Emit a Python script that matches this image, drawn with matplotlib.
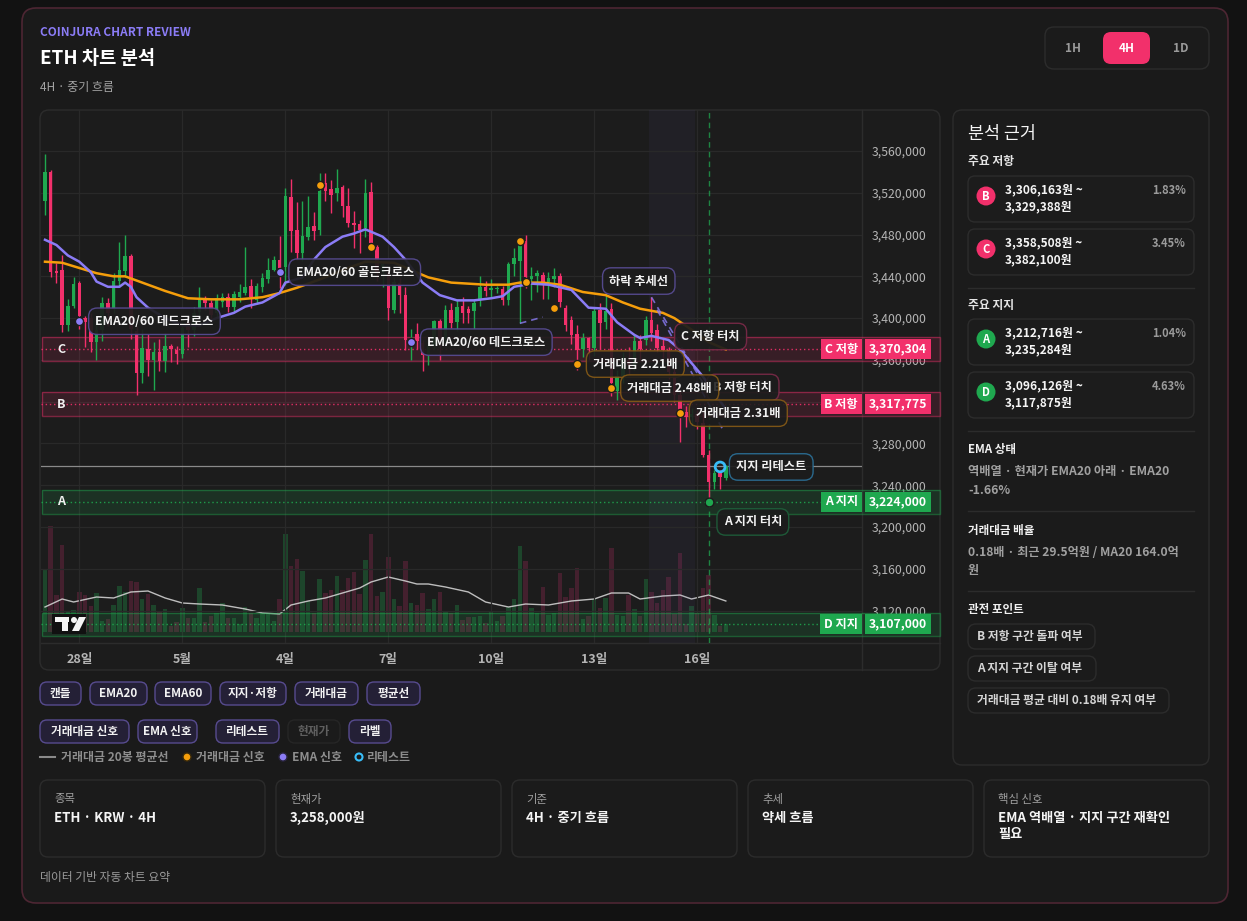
import matplotlib
matplotlib.use('Agg')
import matplotlib.pyplot as plt
import matplotlib.transforms as mtransforms
from matplotlib.patches import FancyBboxPatch, Rectangle, Circle, Polygon
from matplotlib.ticker import FuncFormatter
import numpy as np

plt.rcParams['font.family'] = ['Noto Sans CJK KR', 'DejaVu Sans']

# ---- data (prices in thousand KRW, 4H candles) ----
opens = [3512, 3540, 3445, 3446, 3393, 3412, 3434, 3400, 3400, 3377,
         3389, 3414, 3409, 3436, 3445, 3459, 3388, 3347, 3370, 3360,
         3368, 3359, 3373, 3369, 3366, 3395, 3389, 3406, 3417, 3414,
         3405, 3415, 3420, 3411, 3420, 3424, 3431, 3417, 3430, 3437,
         3446, 3456, 3449, 3516, 3484, 3462, 3478, 3488, 3484, 3529,
         3524, 3520, 3526, 3507, 3491, 3490, 3486, 3521, 3468, 3444,
         3443, 3408, 3434, 3422, 3373, 3385, 3376, 3365, 3374, 3397,
         3380, 3408, 3396, 3412, 3409, 3407, 3417, 3430, 3427, 3428,
         3428, 3417, 3452, 3455, 3474, 3437, 3440, 3441, 3435, 3437,
         3440, 3410, 3398, 3385, 3370, 3381, 3371, 3408, 3396, 3409,
         3330, 3345, 3360, 3355, 3378, 3379, 3398, 3389, 3373, 3369,
         3348, 3326, 3310, 3305, 3308, 3300, 3269, 3243, 3252, 3247]
highs = [3557, 3542, 3453, 3460, 3418, 3439, 3436, 3402, 3405, 3396,
         3420, 3419, 3443, 3473, 3480, 3461, 3392, 3390, 3385, 3377,
         3380, 3386, 3375, 3373, 3396, 3402, 3411, 3430, 3421, 3417,
         3423, 3424, 3424, 3426, 3433, 3468, 3437, 3434, 3443, 3458,
         3459, 3479, 3525, 3533, 3511, 3512, 3517, 3502, 3539, 3539,
         3532, 3543, 3527, 3525, 3503, 3494, 3533, 3530, 3470, 3455,
         3449, 3438, 3438, 3430, 3390, 3395, 3379, 3379, 3398, 3399,
         3413, 3414, 3418, 3420, 3412, 3418, 3440, 3436, 3437, 3431,
         3431, 3454, 3467, 3472, 3480, 3449, 3446, 3444, 3444, 3448,
         3443, 3413, 3402, 3393, 3386, 3382, 3410, 3414, 3424, 3414,
         3350, 3368, 3372, 3385, 3384, 3402, 3420, 3394, 3380, 3372,
         3352, 3330, 3316, 3314, 3312, 3310, 3274, 3255, 3255, 3259]
lows = [3499, 3439, 3434, 3387, 3388, 3410, 3390, 3372, 3368, 3360,
        3378, 3392, 3405, 3430, 3439, 3380, 3326, 3338, 3345, 3331,
        3349, 3348, 3358, 3356, 3362, 3372, 3383, 3402, 3408, 3397,
        3400, 3411, 3406, 3406, 3415, 3422, 3410, 3414, 3425, 3434,
        3445, 3429, 3432, 3463, 3456, 3455, 3475, 3475, 3480, 3512,
        3501, 3512, 3497, 3487, 3467, 3462, 3478, 3464, 3436, 3430,
        3398, 3405, 3405, 3369, 3360, 3370, 3349, 3355, 3370, 3360,
        3376, 3391, 3388, 3395, 3395, 3390, 3412, 3421, 3419, 3424,
        3413, 3413, 3440, 3395, 3429, 3417, 3425, 3418, 3418, 3430,
        3411, 3388, 3375, 3350, 3363, 3360, 3364, 3370, 3390, 3325,
        3322, 3338, 3345, 3350, 3360, 3374, 3378, 3368, 3362, 3342,
        3320, 3281, 3296, 3298, 3294, 3267, 3224, 3236, 3236, 3245]
closes = [3540, 3444, 3443, 3393, 3412, 3433, 3402, 3396, 3377, 3389,
          3414, 3405, 3436, 3446, 3459, 3390, 3347, 3371, 3360, 3368,
          3359, 3373, 3370, 3366, 3391, 3389, 3405, 3417, 3414, 3403,
          3419, 3420, 3411, 3423, 3425, 3430, 3420, 3431, 3438, 3446,
          3456, 3448, 3517, 3483, 3462, 3479, 3487, 3483, 3522, 3522,
          3518, 3525, 3507, 3491, 3489, 3484, 3520, 3472, 3444, 3452,
          3410, 3435, 3422, 3379, 3380, 3378, 3365, 3374, 3397, 3380,
          3408, 3395, 3411, 3405, 3405, 3414, 3430, 3426, 3429, 3429,
          3417, 3452, 3458, 3470, 3439, 3440, 3443, 3433, 3438, 3440,
          3415, 3393, 3384, 3369, 3381, 3371, 3407, 3395, 3407, 3338,
          3345, 3360, 3355, 3378, 3370, 3398, 3386, 3371, 3369, 3348,
          3326, 3310, 3305, 3308, 3301, 3269, 3243, 3252, 3248, 3258]

# turnover (relative units)
volume = [63, 106, 37, 87, 21, 22, 40, 37, 26, 39,
          11, 13, 27, 46, 40, 51, 50, 33, 38, 27,
          21, 23, 6, 10, 24, 14, 14, 44, 10, 16,
          19, 29, 14, 14, 8, 25, 19, 14, 19, 19,
          11, 33, 98, 66, 73, 61, 31, 19, 53, 39,
          42, 56, 42, 54, 60, 38, 72, 98, 36, 40,
          75, 33, 26, 71, 29, 27, 39, 23, 33, 40,
          21, 19, 27, 12, 15, 15, 16, 9, 20, 11,
          16, 25, 33, 86, 71, 24, 19, 45, 17, 19,
          59, 35, 44, 64, 13, 16, 33, 24, 34, 84,
          17, 16, 37, 23, 16, 53, 40, 29, 42, 55,
          18, 79, 8, 26, 19, 44, 57, 17, 6, 8]
vol_ma_idx = [0, 3, 5, 9, 12, 15, 18, 21, 24, 27, 31, 35, 38, 41, 43, 46, 49, 52, 55, 57,
              60, 63, 65, 67, 70, 74, 77, 81, 84, 88, 92, 96, 99, 102, 104, 108, 111, 113, 116, 119]
vol_ma = [25, 33, 30, 35, 34, 40, 41, 34, 29, 28, 27, 23, 19, 18, 27, 31, 34, 39, 44, 50,
          55, 51, 48, 48, 45, 40, 30, 25, 28, 27, 31, 33, 39, 39, 33, 36, 37, 33, 37, 31]

ema20_idx = [0, 2, 4, 6, 8, 9, 11, 13, 14, 15, 16, 18, 21, 24, 27, 30, 33, 35, 38, 41,
             42, 45, 47, 49, 52, 54, 56, 59, 61, 63, 66, 69, 72, 75, 78, 80, 82, 85, 88, 92,
             95, 98, 100, 103, 104, 106, 109, 111, 113, 115, 117, 119]
ema20 = [3475, 3470, 3460, 3454, 3444, 3435, 3430, 3430, 3434, 3430, 3420, 3410, 3400, 3393, 3393,
         3400, 3405, 3411, 3415, 3424, 3434, 3439, 3456, 3468, 3478, 3481, 3485, 3478, 3468, 3456,
         3434, 3422, 3417, 3417, 3419, 3421, 3430, 3433, 3432, 3427, 3410, 3409, 3396, 3384, 3381,
         3383, 3379, 3370, 3357, 3344, 3328, 3313]
ema60_idx = [0, 3, 6, 9, 12, 14, 17, 21, 25, 29, 34, 38, 41, 44, 48, 53, 56, 61, 64, 67,
             71, 77, 81, 83, 87, 90, 94, 98, 101, 104, 108, 110, 113, 116, 119]
ema60 = [3454, 3453, 3448, 3443, 3440, 3440, 3434, 3426, 3419, 3418, 3418, 3420, 3424, 3429, 3437,
         3448, 3454, 3453, 3446, 3439, 3434, 3432, 3432, 3434, 3434, 3432, 3425, 3422, 3415, 3409,
         3405, 3400, 3389, 3377, 3370]

date_idx = [6, 24, 42, 60, 78, 96, 114]
date_labels = ['28일', '5월', '4일', '7일', '10일', '13일', '16일']

zone_names = ['C', 'B', 'A', 'D']
zone_kind = ['저항', '저항', '지지', '지지']
zone_low = [3358508, 3306163, 3212716, 3096126]
zone_high = [3382100, 3329388, 3235284, 3117875]
zone_level = [3370304, 3317775, 3224000, 3107000]
zone_pct = ['3.45%', '1.83%', '1.04%', '4.63%']
current_price = 3258000

ema_sig_idx = [6, 41, 64]
ema_sig_price = [3397, 3444, 3377]
ema_sig_text = ['EMA20/60 데드크로스', 'EMA20/60 골든크로스', 'EMA20/60 데드크로스']
vol_sig_idx = [48, 57, 83, 84, 89, 93, 99, 111]
vol_sig_price = [3527, 3468, 3474, 3435, 3410, 3356, 3333, 3309]
vol_sig_ratio = [0, 0, 0, 0, 0, 2.21, 2.48, 2.31]
touch_idx, touch_price = 116, 3224
retest_idx, retest_price = 118, 3257.5
trend_x = [[106, 115], [107, 118.5], [83, 87]]
trend_y = [[3420, 3338], [3408, 3293], [3395, 3401]]
retest_window = (105.6, 113.6)

# ---- colours ----
GREEN = '#1fa84f'
RED = '#f2306b'
PURPLE = '#8b7cf6'
ORANGE = '#f59e0b'
TEXT = '#ececec'
MUTED = '#a3a3a3'
BORDER = '#2c2c2c'

W, H = 1247, 921
fig = plt.figure(figsize=(W / 100, H / 100), dpi=100)
fig.patch.set_facecolor('#121212')

ui = fig.add_axes([0, 0, 1, 1], zorder=0)
ui.set_xlim(0, W)
ui.set_ylim(H, 0)
ui.axis('off')


def box(x, y, w, h, fc, ec=BORDER, r=8, lw=1, z=1):
    ui.add_patch(FancyBboxPatch((x, y), w, h, boxstyle=f'round,pad=0,rounding_size={r}',
                                fc=fc, ec=ec, lw=lw, zorder=z))


def txt(x, y, s, size=8, color=TEXT, weight='normal', ha='left', va='center', z=3):
    ui.text(x, y, s, fontsize=size, color=color, fontweight=weight, ha=ha, va=va, zorder=z)


# main card + header
box(22, 8, 1206, 895, '#1a1a1a', '#4d2633', r=14, lw=1.2, z=0.5)
txt(40, 33, 'COINJURA CHART REVIEW', 8.5, PURPLE, 'bold')
txt(40, 58, 'ETH 차트 분석', 13.5, '#ffffff', 'bold')
txt(40, 87, '4H · 중기 흐름', 8.6, MUTED)

box(1045, 27, 164, 42, '#1b1b1b', BORDER, r=9)
box(1103, 32, 47, 32, RED, 'none', r=8, z=2)
txt(1073, 48, '1H', 8.5, '#9a9a9a', 'bold', ha='center')
txt(1126.5, 48, '4H', 8.5, '#ffffff', 'bold', ha='center')
txt(1181, 48, '1D', 8.5, '#9a9a9a', 'bold', ha='center')

# chart panel
box(40, 110, 900, 560, '#1c1c1c', BORDER, r=9)
ui.plot([862, 862], [110, 670], color=BORDER, lw=1, zorder=2)
ui.plot([41, 940], [643, 643], color=BORDER, lw=1, zorder=2)

# ---- chart axes ----
rect = [41 / W, (H - 643) / H, (862 - 41) / W, (643 - 110) / H]
xlim = (-0.7, 142.8)
x = np.arange(len(closes))
o = np.array(opens) * 1000
hi = np.array(highs) * 1000
lo = np.array(lows) * 1000
c = np.array(closes) * 1000
up = c >= o

vax = fig.add_axes(rect, zorder=1)
vax.set_facecolor('none')
vax.axis('off')
vax.set_xlim(*xlim)
vax.set_ylim(-11, 522)
vax.bar(x, volume, width=0.78, color=np.where(up, '#1d452b', '#44202e'), zorder=1)
vax.plot(vol_ma_idx, vol_ma, color='#d0d0d0', lw=1, alpha=0.9, zorder=2)

ax = fig.add_axes(rect, zorder=2)
ax.set_facecolor('none')
ax.set_xlim(*xlim)
ax.set_ylim(3088960, 3599250)
for s in ax.spines.values():
    s.set_visible(False)
ax.yaxis.tick_right()
ax.set_yticks(np.arange(3120000, 3560001, 40000))
ax.yaxis.set_major_formatter(FuncFormatter(lambda v, p: f'{v:,.0f}'))
ax.set_xticks(date_idx)
ax.set_xticklabels(date_labels)
ax.tick_params(axis='y', length=0, pad=7, labelsize=8.8, labelcolor='#b5b5b5')
ax.tick_params(axis='x', length=0, pad=7, labelsize=9, labelcolor='#b5b5b5')
for t in ax.get_xticklabels():
    t.set_fontweight('bold')
ax.grid(True, color='#292929', lw=0.9, zorder=0)
ax.set_axisbelow(True)

ax.axvspan(*retest_window, color='#6b5fb5', alpha=0.07, lw=0, zorder=0.5)
ax.axvline(touch_idx, color=GREEN, ls=(0, (4, 3)), lw=1, alpha=0.75, zorder=0.6)

# zones
blend = mtransforms.blended_transform_factory(ax.transAxes, ax.transData)
for name, kind, zl, zh, lev in zip(zone_names, zone_kind, zone_low, zone_high, zone_level):
    col = RED if kind == '저항' else GREEN
    fc = '#f2306b' if kind == '저항' else '#22c55e'
    ax.add_patch(Rectangle((0.001, zl), 1.094, zh - zl, transform=blend, fc=fc, alpha=0.13,
                           ec='none', clip_on=False, zorder=1))
    ax.add_patch(Rectangle((0.001, zl), 1.094, zh - zl, transform=blend, fc='none',
                           ec=col, alpha=0.45, lw=1, clip_on=False, zorder=1))
    ax.axhline(lev, color=col, ls=(0, (1, 2)), lw=1, alpha=0.9, zorder=1.2)
    ax.text(0.0195, lev, name, transform=blend, color='#f0f0f0', fontsize=9,
            fontweight='bold', va='center', ha='left', zorder=2)
    ax.text(0.995, lev, f'{name} {kind}', transform=blend, color='white', fontsize=8.8,
            fontweight='bold', va='center', ha='right', zorder=6, clip_on=False,
            bbox=dict(boxstyle='square,pad=0.3', fc=col, ec='none'))
    ax.text(1.0085, lev, f'{lev:,}', transform=blend, color='white', fontsize=8.8,
            fontweight='bold', va='center', ha='left', zorder=6, clip_on=False,
            bbox=dict(boxstyle='square,pad=0.3', fc=col, ec='none'))

ax.axhline(current_price, color='#8a8a8a', lw=0.9, zorder=1.5)

# candles
ccol = np.where(up, GREEN, RED)
ax.vlines(x, lo, hi, colors=ccol, lw=1, zorder=3)
body = np.maximum(np.abs(c - o), 900)
ax.bar(x, body, bottom=np.minimum(o, c), width=0.62, color=ccol, zorder=3.5)

ax.plot(ema60_idx, np.array(ema60) * 1000, color=ORANGE, lw=1.8, zorder=4)
ax.plot(ema20_idx, np.array(ema20) * 1000, color=PURPLE, lw=1.8, zorder=4)
for tx, ty in zip(trend_x, trend_y):
    ax.plot(tx, np.array(ty) * 1000, color=PURPLE, lw=1.2, ls=(0, (4, 3)), alpha=0.8, zorder=4)


def tag(xv, yv, s, ec, dx=16, dy=0, alpha=0.93):
    ax.annotate(s, xy=(xv, yv), xytext=(dx, dy), textcoords='offset pixels', ha='left',
                va='center', fontsize=8.8, fontweight='bold', color='#f2f2f2', zorder=8,
                annotation_clip=False,
                bbox=dict(boxstyle='round,pad=0.55,rounding_size=0.7', fc='#1d1d1d',
                          ec=ec, lw=1, alpha=alpha))


for i, p in zip(vol_sig_idx, vol_sig_price):
    ax.scatter(i, p * 1000, s=34, color=ORANGE, edgecolor='#1c1c1c', lw=1, zorder=7)
for i, p in zip(ema_sig_idx, ema_sig_price):
    ax.scatter(i, p * 1000, s=34, color=PURPLE, edgecolor='#1c1c1c', lw=1, zorder=7)
ax.scatter(touch_idx, touch_price * 1000, s=40, color=GREEN, edgecolor='#1c1c1c', lw=1, zorder=7)
ax.scatter(retest_idx, retest_price * 1000, s=50, facecolor='none', edgecolor='#38bdf8', lw=2, zorder=7)

for i, p, s in zip(ema_sig_idx, ema_sig_price, ema_sig_text):
    tag(i, p * 1000, s, '#584c94')
tag(97.4, 3435500, '하락 추세선', '#584c94', dx=7)
tag(110, 3382400, 'C 저항 터치', '#7a2a48', dx=7)
tag(115.6, 3333600, 'B 저항 터치', '#7a2a48', dx=7)
for i, p, r in zip(vol_sig_idx, vol_sig_price, vol_sig_ratio):
    if r > 0:
        tag(i, p * 1000, f'거래대금 {r:.2f}배', '#8a5d16', alpha=0.88)
tag(retest_idx, retest_price * 1000, '지지 리테스트', '#2b6f96', dx=16)
tag(touch_idx, touch_price * 1000, 'A 지지 터치', '#1e5e3a', dx=15, dy=-20)

# TradingView-like badge on top of the chart
pix = ui.transData
for patch in [Rectangle((52, 614), 34, 20, fc='#111111', ec='none'),
              Rectangle((55, 617), 14, 5, fc='#f5f5f5', ec='none'),
              Rectangle((62, 617), 6, 14, fc='#f5f5f5', ec='none'),
              Circle((74, 620), 3, fc='#f5f5f5', ec='none'),
              Polygon([(79, 617), (86, 617), (79, 631), (72, 631)], fc='#f5f5f5', ec='none')]:
    patch.set_transform(pix)
    patch.set_clip_on(False)
    patch.set_zorder(9)
    ax.add_patch(patch)

# ---- toggles & legend ----
chips1 = [('캔들', 40, 41), ('EMA20', 90, 57), ('EMA60', 155, 56), ('지지·저항', 220, 66),
          ('거래대금', 295, 63), ('평균선', 367, 53)]
for s, cx, cw in chips1:
    box(cx, 682, cw, 23, '#242036', '#574b8f', r=7)
    txt(cx + cw / 2, 693.5, s, 8.4, '#f2f2f2', 'bold', ha='center')
chips2 = [('거래대금 신호', 40, 89, True), ('EMA 신호', 138, 59, True), ('리테스트', 216, 63, True),
          ('현재가', 288, 52, False), ('라벨', 349, 42, True)]
for s, cx, cw, on in chips2:
    if on:
        box(cx, 720, cw, 23, '#242036', '#574b8f', r=7)
        txt(cx + cw / 2, 731.5, s, 8.4, '#f2f2f2', 'bold', ha='center')
    else:
        box(cx, 720, cw, 23, '#1b1b1b', '#262626', r=7)
        txt(cx + cw / 2, 731.5, s, 8.4, '#5f5f5f', 'bold', ha='center')

ui.plot([40, 55], [757, 757], color='#8a8a8a', lw=1.5, zorder=3)
txt(61, 757, '거래대금 20봉 평균선', 8.6, '#8e8e8e', 'bold')
ui.add_patch(Circle((187, 757), 4, fc=ORANGE, ec='#3a2a0a', lw=1, zorder=3))
txt(196, 757, '거래대금 신호', 8.6, '#8e8e8e', 'bold')
ui.add_patch(Circle((283, 757), 4, fc=PURPLE, ec='#2a2540', lw=1, zorder=3))
txt(292, 757, 'EMA 신호', 8.6, '#8e8e8e', 'bold')
ui.add_patch(Circle((359, 757), 3.5, fc='none', ec='#38bdf8', lw=1.5, zorder=3))
txt(367, 757, '리테스트', 8.6, '#8e8e8e', 'bold')

# ---- right panel ----
box(953, 110, 256, 655, '#1b1b1b', BORDER, r=9)
txt(968, 134, '분석 근거', 12.5, '#f5f5f5', 'medium')
txt(968, 162, '주요 저항', 8.5, '#e5e5e5', 'bold')
txt(968, 305, '주요 지지', 8.5, '#e5e5e5', 'bold')
card_y = {'B': 176, 'C': 229, 'A': 319, 'D': 372}
for name, kind, zl, zh, pct in zip(zone_names, zone_kind, zone_low, zone_high, zone_pct):
    cy = card_y[name]
    col = RED if kind == '저항' else GREEN
    box(968, cy, 226, 46, '#1c1c1c', BORDER, r=7)
    ui.add_patch(Circle((986, cy + 20), 9.5, fc=col, ec='none', zorder=3))
    txt(986, cy + 20, name, 8, 'white', 'bold', ha='center', z=4)
    txt(1005, cy + 14, f'{zl:,}원 ~', 8.6, '#f5f5f5', 'bold')
    txt(1005, cy + 31, f'{zh:,}원', 8.6, '#f5f5f5', 'bold')
    txt(1186, cy + 14, pct, 8, '#9a9a9a', 'bold', ha='right')
for sy in [288, 431, 511, 591]:
    ui.plot([968, 1194], [sy, sy], color=BORDER, lw=1, zorder=2)

txt(968, 449, 'EMA 상태', 8.3, '#f0f0f0', 'bold')
txt(968, 471, '역배열 · 현재가 EMA20 아래 · EMA20', 8.8, '#a0a0a0', 'bold')
txt(968, 490, '-1.66%', 8.8, '#a0a0a0', 'bold')
txt(968, 530, '거래대금 배율', 8.3, '#f0f0f0', 'bold')
txt(968, 552, '0.18배 · 최근 29.5억원 / MA20 164.0억', 8.7, '#a0a0a0', 'bold')
txt(968, 570, '원', 8.7, '#a0a0a0', 'bold')
txt(968, 609, '관전 포인트', 8.3, '#f0f0f0', 'bold')
points = [('B 저항 구간 돌파 여부', 624, 127), ('A 지지 구간 이탈 여부', 656, 128),
          ('거래대금 평균 대비 0.18배 유지 여부', 688, 201)]
for s, py, pw in points:
    box(968, py, pw, 25, '#1b1b1b', BORDER, r=8)
    txt(977, py + 12.5, s, 8.5, '#d5d5d5', 'bold')

# ---- bottom summary cards ----
cards = [('종목', 'ETH · KRW · 4H'), ('현재가', '3,258,000원'), ('기준', '4H · 중기 흐름'),
         ('추세', '약세 흐름'), ('핵심 신호', 'EMA 역배열 · 지지 구간 재확인\n필요')]
for k, (lab, val) in enumerate(cards):
    cx = 40 + k * 236
    box(cx, 780, 225, 77, '#1b1b1b', BORDER, r=8)
    txt(cx + 14, 799, lab, 8.2, '#a0a0a0')
    ui.text(cx + 14, 811, val, fontsize=9.5, color='#f5f5f5', fontweight='bold',
            ha='left', va='top', linespacing=1.2, zorder=3)
txt(40, 877, '데이터 기반 자동 차트 요약', 8.5, '#9a9a9a')

fig.savefig('out.png', dpi=100, facecolor=fig.get_facecolor())
